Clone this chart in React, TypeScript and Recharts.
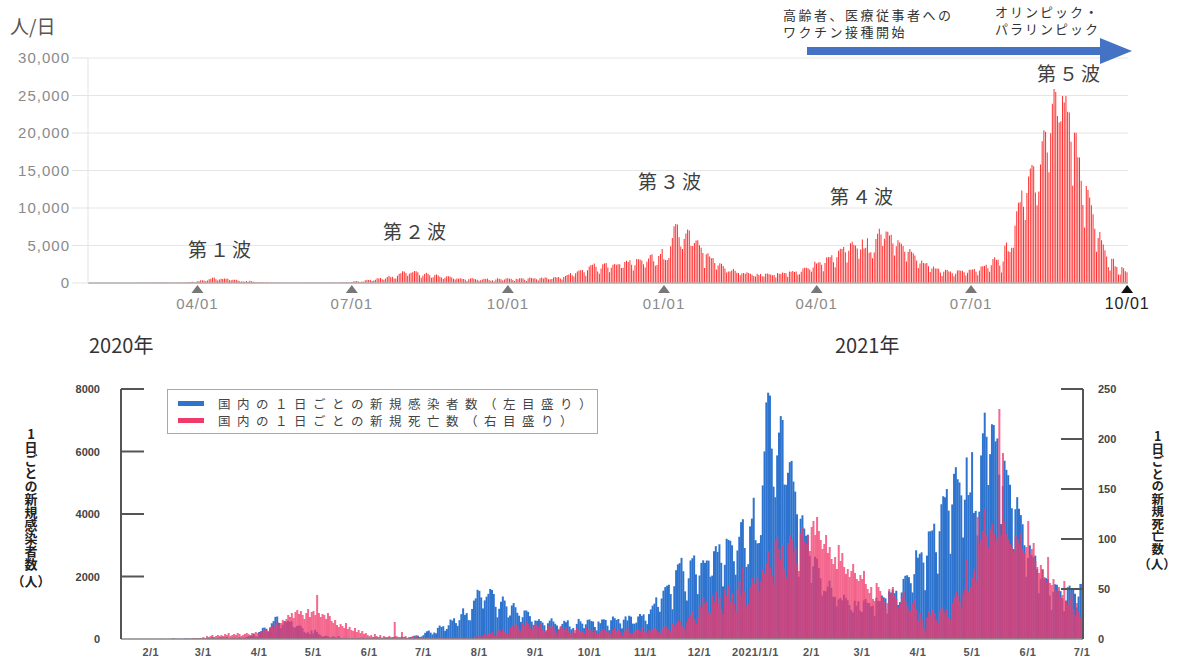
import React from 'react';
import { BarChart, ComposedChart, Bar, XAxis, YAxis, CartesianGrid } from 'recharts';

const JP = '"Noto Sans CJK JP", "Noto Sans", sans-serif';
const LAT = '"Liberation Sans", Arial, sans-serif';

// daily new cases (Japan), one array per month
const casesJan2020 = [0, 0, 0, 1, 1, 2, 0, 1, 0, 2, 1, 1, 2, 1, 3, 3]; // from 1/16
const casesFeb2020 = [1, 2, 2, 4, 1, 2, 5, 3, 2, 1, 4, 2, 8, 12, 9, 5, 6, 8, 4, 10, 12, 16, 10, 7, 14, 18, 22, 15, 18];
const casesMar2020 = [14, 18, 20, 33, 33, 59, 47, 33, 26, 54, 52, 56, 41, 64, 34, 15, 44, 39, 44, 35, 53, 41, 38, 39, 65, 93, 96, 112, 173, 87, 78];
const casesApr2020 = [224, 245, 357, 365, 328, 232, 347, 503, 575, 708, 720, 515, 350, 457, 567, 545, 585, 553, 565, 378, 369, 418, 431, 426, 348, 230, 186, 214, 155, 270];
const casesMay2020 = [178, 295, 226, 154, 122, 71, 91, 102, 89, 57, 49, 89, 54, 47, 96, 41, 29, 38, 30, 40, 27, 17, 33, 20, 21, 36, 38, 41, 37, 28, 38];
const casesJun2020 = [34, 38, 45, 52, 48, 45, 46, 40, 40, 45, 41, 54, 50, 48, 72, 41, 39, 52, 71, 56, 57, 35, 42, 66, 58, 105, 89, 107, 58, 80];
const casesJul2020 = [121, 197, 248, 270, 205, 149, 207, 181, 355, 430, 386, 408, 262, 322, 439, 622, 591, 663, 509, 420, 603, 796, 981, 771, 829, 603, 597, 962, 1229, 1301, 1575];
const casesAug2020 = [1540, 1331, 978, 1235, 1355, 1445, 1603, 1568, 1441, 1028, 694, 967, 1192, 1359, 1231, 1043, 691, 752, 1073, 1150, 1016, 839, 745, 546, 698, 911, 914, 868, 732, 558, 453];
const casesSep2020 = [593, 579, 632, 574, 526, 438, 240, 504, 586, 662, 562, 488, 432, 288, 380, 483, 582, 536, 598, 402, 309, 352, 189, 483, 643, 564, 490, 346, 470, 615];
const casesOct2020 = [625, 574, 560, 384, 274, 560, 507, 624, 628, 610, 425, 283, 598, 720, 665, 610, 640, 500, 340, 618, 724, 595, 745, 716, 493, 489, 524, 720, 800, 740, 789];
const casesNov2020 = [587, 476, 798, 946, 1068, 1133, 1332, 1027, 871, 1296, 1547, 1660, 1705, 1737, 1439, 951, 1688, 2201, 2386, 2427, 2596, 2168, 1524, 1231, 1942, 2514, 2585, 2674, 2068, 1437];
const casesDec2020 = [2032, 2434, 2518, 2436, 2512, 2508, 1994, 2030, 2810, 2971, 2787, 3030, 2439, 1683, 2373, 3207, 3170, 3145, 2999, 2488, 2058, 2833, 3272, 3740, 3833, 2911, 2307, 2396, 3604, 3852, 4520];
const casesJan2021 = [3163, 3060, 3070, 3325, 4915, 6004, 7571, 7882, 7790, 6094, 4876, 4538, 5875, 6605, 7133, 7008, 4942, 4934, 5320, 5660, 5700, 5037, 4716, 3990, 1994, 3850, 3960, 3535, 3305, 3340, 2663];
const casesFeb2021 = [1792, 2323, 2631, 2572, 2277, 1946, 1387, 1546, 1527, 1679, 1869, 1640, 1356, 1346, 1041, 1269, 1317, 1240, 1420, 1320, 1240, 1085, 930, 851, 1225, 1064, 1210, 908];
const casesMar2021 = [866, 1232, 1280, 1156, 1150, 1046, 1063, 746, 1321, 1220, 1210, 1393, 1337, 1302, 815, 1526, 1486, 1586, 1466, 1544, 1090, 1180, 1489, 1925, 2023, 2040, 1980, 1786, 1490, 2075, 2840];
const casesApr2021 = [2602, 2727, 2773, 2446, 1562, 2669, 3441, 3450, 3478, 3690, 2779, 2093, 3449, 4311, 4568, 4534, 4798, 4110, 2728, 4306, 5286, 5498, 5113, 5009, 4596, 3248, 4458, 5810, 4606, 4691];
const casesMay2021 = [5979, 4035, 4100, 3314, 4075, 5874, 6583, 7244, 6471, 4928, 5916, 6873, 6846, 6325, 6418, 5258, 3677, 4893, 5704, 5412, 5241, 4934, 4183, 2879, 4152, 4540, 4167, 3965, 3672, 3000, 1992];
const casesJun2021 = [2595, 2997, 2681, 2616, 2670, 2233, 1463, 1925, 2216, 1939, 1944, 1912, 1390, 928, 1507, 1751, 1736, 1543, 1530, 1298, 886, 1231, 1658, 1709, 1624, 1623, 1448, 1009, 1359, 1760];
const casesJul2021 = [1768, 1787, 1870, 1506, 1034, 1678, 2190, 2245, 2272, 2436, 1979, 1492, 2380, 3194, 3422, 3103, 3095, 2330, 1395, 2852, 4961, 5403, 4225, 4127, 4690, 4693, 7622, 9576, 10699, 10781, 12341];
const casesAug2021 = [10179, 8386, 12016, 14207, 15263, 15745, 15567, 12057, 10364, 12211, 15812, 18889, 20365, 20151, 17393, 14756, 19955, 23909, 25876, 25464, 22277, 21406, 21571, 24933, 24063, 24939, 22833, 22742, 18843, 12957, 20044];
const casesSep2021 = [20030, 16761, 16740, 13620, 10403, 7394, 12927, 12396, 11406, 10379, 9156, 7223, 4169, 6009, 6804, 5709, 5145, 4353, 3539, 2146, 1680, 3236, 3219, 2245, 2120, 1147, 1136, 2119, 1971, 1580];
const casesOct2021 = [1444];

// daily new deaths, one array per month
const deathsJan2020 = [0, 0, 0, 0, 0, 0, 0, 0, 0, 0, 0, 0, 0, 0, 0, 0]; // from 1/16
const deathsFeb2020 = [0, 0, 0, 0, 0, 0, 0, 0, 0, 0, 0, 0, 1, 0, 0, 0, 0, 0, 0, 1, 0, 0, 0, 1, 1, 0, 1, 1, 1];
const deathsMar2020 = [2, 1, 3, 2, 3, 4, 2, 3, 4, 3, 4, 3, 5, 4, 6, 3, 4, 5, 4, 6, 5, 3, 4, 5, 6, 5, 4, 6, 5, 7, 6];
const deathsApr2020 = [6, 8, 7, 10, 9, 8, 12, 14, 11, 15, 17, 14, 16, 19, 18, 20, 24, 22, 26, 21, 27, 29, 25, 28, 24, 20, 26, 30, 22, 27];
const deathsMay2020 = [28, 24, 44, 26, 22, 25, 24, 20, 26, 23, 18, 16, 19, 14, 12, 15, 13, 11, 16, 10, 12, 9, 8, 11, 7, 9, 6, 8, 5, 6, 4];
const deathsJun2020 = [3, 4, 2, 5, 3, 2, 4, 1, 3, 2, 2, 3, 1, 2, 17, 3, 2, 1, 7, 2, 3, 1, 2, 1, 3, 2, 4, 1, 2, 1];
const deathsJul2020 = [1, 0, 2, 1, 0, 1, 0, 1, 2, 1, 0, 1, 0, 2, 1, 1, 0, 2, 1, 0, 1, 2, 0, 1, 2, 0, 1, 0, 2, 3, 1];
const deathsAug2020 = [3, 2, 4, 5, 3, 6, 5, 7, 4, 3, 8, 9, 7, 10, 8, 6, 5, 11, 14, 12, 15, 13, 10, 8, 16, 14, 17, 15, 12, 9, 14];
const deathsSep2020 = [16, 13, 12, 15, 10, 8, 9, 14, 12, 13, 11, 8, 6, 10, 13, 11, 9, 12, 8, 5, 6, 7, 9, 11, 10, 8, 7, 6, 11, 9];
const deathsOct2020 = [10, 8, 7, 9, 6, 5, 8, 10, 9, 7, 8, 5, 6, 9, 11, 8, 10, 7, 4, 7, 9, 11, 8, 6, 5, 7, 10, 9, 8, 11, 7];
const deathsNov2020 = [8, 6, 9, 7, 10, 11, 9, 7, 6, 10, 12, 13, 11, 9, 7, 15, 13, 16, 19, 17, 13, 11, 9, 17, 21, 24, 27, 20, 15, 22];
const deathsDec2020 = [34, 31, 42, 36, 38, 28, 26, 44, 38, 47, 35, 42, 30, 25, 49, 43, 53, 38, 46, 36, 28, 50, 58, 44, 72, 48, 33, 35, 52, 61, 56];
const deathsJan2021 = [55, 62, 48, 58, 70, 66, 75, 88, 72, 64, 55, 98, 102, 90, 80, 94, 70, 62, 96, 104, 100, 86, 92, 75, 68, 106, 112, 98, 95, 104, 88];
const deathsFeb2021 = [112, 118, 104, 122, 108, 99, 90, 95, 104, 86, 92, 80, 75, 82, 70, 94, 78, 86, 72, 65, 70, 62, 68, 75, 66, 60, 58, 64];
const deathsMar2021 = [60, 68, 55, 50, 46, 52, 40, 38, 56, 52, 48, 42, 38, 30, 36, 50, 46, 52, 44, 40, 32, 35, 42, 48, 38, 34, 30, 28, 36, 40, 30];
const deathsApr2021 = [18, 26, 20, 12, 8, 22, 28, 24, 30, 26, 20, 16, 28, 32, 30, 26, 30, 22, 19, 36, 42, 48, 44, 38, 32, 46, 50, 80, 48, 52];
const deathsMay2021 = [62, 70, 58, 122, 95, 100, 108, 129, 104, 92, 110, 115, 106, 98, 102, 230, 104, 186, 118, 105, 100, 95, 92, 88, 104, 100, 96, 106, 90, 86, 92];
const deathsJun2021 = [118, 85, 90, 96, 78, 72, 66, 74, 70, 62, 58, 82, 56, 54, 60, 50, 48, 52, 42, 44, 58, 38, 34, 40, 46, 30, 24, 36, 28, 22];
const deathsJul2021 = [24];

const topTickDates = ['2020-04-01', '2020-07-01', '2020-10-01', '2021-01-01', '2021-04-01', '2021-07-01', '2021-10-01'];
const topTickLabels = ['04/01', '07/01', '10/01', '01/01', '04/01', '07/01', '10/01'];
const topYTicks = [0, 5000, 10000, 15000, 20000, 25000, 30000];

const bottomTickDates = ['2020-02-01', '2020-03-01', '2020-04-01', '2020-05-01', '2020-06-01', '2020-07-01', '2020-08-01', '2020-09-01', '2020-10-01', '2020-11-01', '2020-12-01', '2021-01-01', '2021-02-01', '2021-03-01', '2021-04-01', '2021-05-01', '2021-06-01', '2021-07-01'];
const bottomTickLabels = ['2/1', '3/1', '4/1', '5/1', '6/1', '7/1', '8/1', '9/1', '10/1', '11/1', '12/1', '2021/1/1', '2/1', '3/1', '4/1', '5/1', '6/1', '7/1'];
const leftTicks = [0, 2000, 4000, 6000, 8000];
const rightTicks = [0, 50, 100, 150, 200, 250];

const pad = (n: number) => String(n).padStart(2, '0');

// [year, month, first day, values]
const caseMonths: [number, number, number, number[]][] = [
  [2020, 1, 16, casesJan2020], [2020, 2, 1, casesFeb2020], [2020, 3, 1, casesMar2020], [2020, 4, 1, casesApr2020],
  [2020, 5, 1, casesMay2020], [2020, 6, 1, casesJun2020], [2020, 7, 1, casesJul2020], [2020, 8, 1, casesAug2020],
  [2020, 9, 1, casesSep2020], [2020, 10, 1, casesOct2020], [2020, 11, 1, casesNov2020], [2020, 12, 1, casesDec2020],
  [2021, 1, 1, casesJan2021], [2021, 2, 1, casesFeb2021], [2021, 3, 1, casesMar2021], [2021, 4, 1, casesApr2021],
  [2021, 5, 1, casesMay2021], [2021, 6, 1, casesJun2021], [2021, 7, 1, casesJul2021], [2021, 8, 1, casesAug2021],
  [2021, 9, 1, casesSep2021], [2021, 10, 1, casesOct2021],
];
const deathMonths: [number, number, number, number[]][] = [
  [2020, 1, 16, deathsJan2020], [2020, 2, 1, deathsFeb2020], [2020, 3, 1, deathsMar2020], [2020, 4, 1, deathsApr2020],
  [2020, 5, 1, deathsMay2020], [2020, 6, 1, deathsJun2020], [2020, 7, 1, deathsJul2020], [2020, 8, 1, deathsAug2020],
  [2020, 9, 1, deathsSep2020], [2020, 10, 1, deathsOct2020], [2020, 11, 1, deathsNov2020], [2020, 12, 1, deathsDec2020],
  [2021, 1, 1, deathsJan2021], [2021, 2, 1, deathsFeb2021], [2021, 3, 1, deathsMar2021], [2021, 4, 1, deathsApr2021],
  [2021, 5, 1, deathsMay2021], [2021, 6, 1, deathsJun2021], [2021, 7, 1, deathsJul2021],
];

const toDaily = (months: [number, number, number, number[]][]) =>
  months.flatMap(([y, m, d0, vals]) => vals.map((v, i) => ({ date: `${y}-${pad(m)}-${pad(d0 + i)}`, v })));

const caseDaily = toDaily(caseMonths);
const deathByDate = new Map(toDaily(deathMonths).map((r) => [r.date, r.v]));

const topData = caseDaily.filter((r) => r.date >= '2020-01-28').map((r) => ({ date: r.date, cases: r.v }));
const bottomData = caseDaily
  .filter((r) => r.date <= '2021-07-01')
  .map((r) => ({ date: r.date, cases: r.v, deaths: deathByDate.get(r.date) ?? 0 }));

const TopTick = (props: any) => {
  const { x, y, payload } = props;
  const i = topTickDates.indexOf(payload.value);
  if (i < 0) return <g />;
  const last = i === topTickDates.length - 1;
  return (
    <g transform={`translate(${x},${y})`}>
      <polygon points="-6,10 6,10 0,2" fill={last ? '#111' : '#777'} />
      <text y={26} textAnchor="middle" fill={last ? '#222' : '#8a8a8a'} fontSize={last ? 16 : 15} fontFamily={LAT} letterSpacing={1}>
        {topTickLabels[i]}
      </text>
    </g>
  );
};

const BottomTick = (props: any) => {
  const { x, y, payload } = props;
  const i = bottomTickDates.indexOf(payload.value);
  if (i < 0) return <g />;
  return (
    <text x={x} y={y + 17} textAnchor="middle" fill="#555" fontSize={11} fontWeight={700} fontFamily={LAT} letterSpacing={0.5}>
      {bottomTickLabels[i]}
    </text>
  );
};

const LeftTick = (props: any) => {
  const { x, y, payload } = props;
  return (
    <g>
      {payload.value > 0 && <line x1={x} x2={x + 23} y1={y} y2={y} stroke="#555" strokeWidth={2} />}
      <text x={x - 21} y={y + 4} textAnchor="end" fill="#444" fontSize={11} fontWeight={700} fontFamily={LAT}>
        {payload.value}
      </text>
    </g>
  );
};

const RightTick = (props: any) => {
  const { x, y, payload } = props;
  return (
    <g>
      {payload.value > 0 && <line x1={x - 22} x2={x} y1={y} y2={y} stroke="#555" strokeWidth={2} />}
      <text x={x + 15} y={y + 4} textAnchor="start" fill="#444" fontSize={11} fontWeight={700} fontFamily={LAT}>
        {payload.value}
      </text>
    </g>
  );
};

const Label = ({ x, y, size, children, color = '#404040', spacing = 0, lh = 1.2 }: any) => (
  <div style={{ position: 'absolute', left: x, top: y - (size * lh) / 2, fontSize: size, lineHeight: lh, color, letterSpacing: spacing, whiteSpace: 'nowrap', fontFamily: JP }}>
    {children}
  </div>
);

// vertical axis title: upright column of characters, then （人） written across
const VerticalTitle = ({ cx, top, size, text }: { cx: number; top: number; size: number; text: string }) => {
  const colHeight = Array.from(text).length * size;
  return (
    <>
      <div
        style={{
          position: 'absolute', left: cx - size / 2 - 1, top, width: size + 2, height: colHeight,
          writingMode: 'vertical-rl', textOrientation: 'upright', fontSize: size, lineHeight: `${size + 2}px`,
          fontWeight: 700, color: '#222', fontFamily: JP, whiteSpace: 'nowrap',
        }}
      >
        {text}
      </div>
      <div style={{ position: 'absolute', left: cx - 30, top: top + colHeight + 2, width: 60, textAlign: 'center', fontSize: size, lineHeight: `${size + 2}px`, fontWeight: 700, color: '#222', fontFamily: JP }}>
        （人）
      </div>
    </>
  );
};

export default function App() {
  return (
    <div style={{ position: 'absolute', left: 0, top: 0, width: 1184, height: 659, background: '#fff', overflow: 'hidden', fontFamily: JP }}>
      <div style={{ position: 'absolute', left: 0, top: 0 }}>
        <BarChart width={1184} height={320} data={topData} margin={{ top: 58, right: 56, bottom: 0, left: 0 }} barCategoryGap="12%">
          <CartesianGrid vertical={false} stroke="#e6e6e6" />
          <XAxis dataKey="date" interval={0} tickLine={false} tickSize={0} tickMargin={0} height={37} axisLine={{ stroke: '#b0b0b0', strokeWidth: 1.5 }} tick={TopTick} />
          <YAxis
            width={88}
            domain={[0, 30000]}
            ticks={topYTicks}
            tickFormatter={(v: number) => v.toLocaleString('en-US')}
            axisLine={{ stroke: '#e3e3e3' }}
            tickLine={{ stroke: '#e3e3e3' }}
            tickSize={16}
            tickMargin={2}
            tick={{ fill: '#8a8a8a', fontSize: 15, fontFamily: LAT, letterSpacing: 1 }}
          />
          <Bar dataKey="cases" fill="#ff2e2e" isAnimationActive={false} />
        </BarChart>
      </div>

      <Label x={10} y={26} size={19} color="#555">人/日</Label>
      <Label x={188} y={249} size={19} spacing={3}>第１波</Label>
      <Label x={383} y={231} size={19} spacing={3}>第２波</Label>
      <Label x={638} y={181} size={19} spacing={3}>第３波</Label>
      <Label x={830} y={196} size={19} spacing={3}>第４波</Label>
      <Label x={1037} y={73} size={19} spacing={3}>第５波</Label>
      <div style={{ position: 'absolute', left: 783, top: 5.5, fontSize: 13, lineHeight: '17px', color: '#333', letterSpacing: 2.5, whiteSpace: 'nowrap', fontFamily: JP }}>
        高齢者、医療従事者への
        <br />
        ワクチン接種開始
      </div>
      <div style={{ position: 'absolute', left: 995, top: 3, fontSize: 13, lineHeight: '17px', color: '#333', letterSpacing: 2, whiteSpace: 'nowrap', fontFamily: JP }}>
        オリンピック・
        <br />
        パラリンピック
      </div>
      <Label x={89} y={345} size={20} color="#333">2020年</Label>
      <Label x={835} y={345} size={20} color="#333">2021年</Label>

      <svg style={{ position: 'absolute', left: 0, top: 0 }} width={1184} height={70}>
        <rect x={807} y={47} width={296} height={8} fill="#4472c4" />
        <polygon points="1100,38 1132,51 1100,64" fill="#4472c4" />
      </svg>

      <div style={{ position: 'absolute', left: 0, top: 380 }}>
        <ComposedChart width={1184} height={280} data={bottomData} margin={{ top: 9, right: 51, bottom: 0, left: 71 }} barCategoryGap={0} barGap="-100%">
          <XAxis dataKey="date" interval={0} tickLine={false} tickSize={0} tickMargin={0} height={21} axisLine={{ stroke: '#8a8a8a', strokeWidth: 1.5 }} tick={BottomTick} />
          <YAxis yAxisId="left" width={50} domain={[0, 8000]} ticks={leftTicks} axisLine={{ stroke: '#555', strokeWidth: 2 }} tickLine={false} tickSize={0} tickMargin={0} tick={LeftTick} />
          <YAxis yAxisId="right" orientation="right" width={50} domain={[0, 250]} ticks={rightTicks} axisLine={{ stroke: '#555', strokeWidth: 2 }} tickLine={false} tickSize={0} tickMargin={0} tick={RightTick} />
          <Bar yAxisId="left" dataKey="cases" fill="#2e74cf" isAnimationActive={false} />
          <Bar yAxisId="right" dataKey="deaths" fill="#f03a6c" fillOpacity={0.76} isAnimationActive={false} />
        </ComposedChart>
      </div>

      <div style={{ position: 'absolute', left: 167, top: 389, width: 431, height: 45, border: '1.5px solid #a8a8a8', boxSizing: 'border-box', background: '#fff' }}>
        {[
          { color: '#2e74cf', text: '国内の１日ごとの新規感染者数（左目盛り）', top: 6 },
          { color: '#f03a6c', text: '国内の１日ごとの新規死亡数（右目盛り）', top: 23 },
        ].map((r) => (
          <div key={r.text} style={{ position: 'absolute', left: 10, top: r.top }}>
            <div style={{ position: 'absolute', left: 0, top: 5, width: 26, height: 5, background: r.color }} />
            <div style={{ position: 'absolute', left: 40, top: 0, fontSize: 12.5, lineHeight: '15px', letterSpacing: 6.5, color: '#444', whiteSpace: 'nowrap', fontFamily: JP }}>
              {r.text}
            </div>
          </div>
        ))}
      </div>

      <VerticalTitle cx={31} top={428} size={13} text="1日ごとの新規感染者数" />
      <VerticalTitle cx={1157} top={430} size={12.5} text="1日ごとの新規死亡数" />
    </div>
  );
}
